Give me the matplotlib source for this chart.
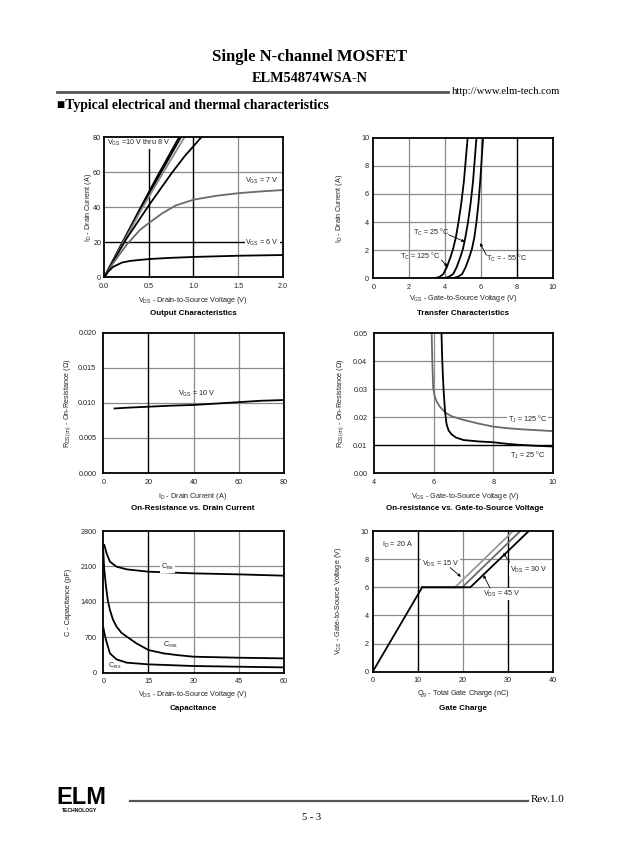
import numpy as np
import matplotlib
matplotlib.use("Agg")
from matplotlib import pyplot as plt

plt.rcParams['font.family'] = ['Liberation Sans', 'DejaVu Sans']
plt.rcParams['mathtext.default'] = 'regular'

W, H = 624, 865

# output characteristics
out_x10 = [0, 0.2, 0.4, 0.6, 0.84]
out_y10 = [0, 19.5, 39, 58, 80]
out_x9 = [0, 0.2, 0.4, 0.6, 0.86]
out_y9 = [0, 19, 38, 56.5, 80]
out_x85 = [0, 0.2, 0.4, 0.6, 0.9]
out_y85 = [0, 18.5, 37, 54.5, 80]
out_x8 = [0, 0.1, 0.25, 0.5, 0.75, 0.9, 1.09]
out_y8 = [0, 9, 22, 41, 59, 69, 80]
out_x7 = [0, 0.1, 0.25, 0.4, 0.5, 0.65, 0.8, 1.0, 1.25, 1.5, 1.75, 2.0]
out_y7 = [0, 8, 18.5, 27, 31, 36.5, 41, 44.3, 46.5, 48, 49, 49.8]
out_x6 = [0, 0.05, 0.1, 0.2, 0.3, 0.5, 0.75, 1.0, 1.5, 2.0]
out_y6 = [0, 3.5, 6, 8.5, 9.5, 10.5, 11.2, 11.7, 12.4, 12.8]

# transfer characteristics
tr_y = [0, 0.1, 0.3, 0.8, 1.5, 2.1, 2.9, 4.0, 5.3, 6.9, 10]
tr_x125 = [3.4, 3.7, 3.9, 4.1, 4.3, 4.45, 4.6, 4.75, 4.9, 5.05, 5.26]
tr_x25 = [3.9, 4.2, 4.45, 4.65, 4.85, 5.0, 5.13, 5.28, 5.42, 5.56, 5.75]
tr_x55 = [4.4, 4.7, 4.95, 5.15, 5.35, 5.5, 5.63, 5.75, 5.86, 5.96, 6.12]

# on-resistance vs drain current
rd_x = [5, 10, 20, 30, 40, 50, 60, 70, 80]
rd_y = [0.0092, 0.0093, 0.00945, 0.0096, 0.0097, 0.0099, 0.0101, 0.0103, 0.0104]

# on-resistance vs gate voltage
rg_x125 = [5.93, 5.95, 5.98, 6.03, 6.1, 6.2, 6.38, 6.6, 7.0, 7.5, 8.0, 8.5, 9.0, 9.5, 10]
rg_y125 = [0.05, 0.04, 0.0305, 0.0275, 0.0255, 0.0238, 0.0217, 0.0203, 0.019, 0.0177,
           0.0166, 0.016, 0.0156, 0.0153, 0.015]
rg_x25 = [6.26, 6.28, 6.31, 6.34, 6.38, 6.43, 6.5, 6.6, 6.75, 7.0, 7.5, 8.0, 8.5, 9.0, 9.5, 10]
rg_y25 = [0.05, 0.042, 0.034, 0.028, 0.022, 0.0175, 0.0152, 0.0138, 0.0127, 0.0118,
          0.0113, 0.011, 0.0104, 0.0100, 0.0097, 0.0095]

# capacitance
ciss_x = [0, 0.3, 1.1, 2.2, 4.4, 7.8, 15, 30, 45, 60]
ciss_y = [2490, 2530, 2358, 2194, 2095, 2042, 1996, 1963, 1943, 1917]
coss_x = [0, 0.3, 0.9, 1.5, 2.2, 3.2, 4.4, 6, 7.8, 11, 15, 20, 25, 30, 45, 60]
coss_y = [2400, 2050, 1700, 1430, 1240, 1050, 910, 790, 712, 580, 448, 382, 345, 316, 296, 283]
crss_x = [0, 0.3, 0.9, 2.2, 4.4, 7.8, 15, 30, 60]
crss_y = [896, 800, 645, 382, 263, 198, 165, 132, 105]

# gate charge
qg_x0 = [0, 11]
qg_y0 = [0, 6]
qg_y = [6, 6, 10]
qg_x15 = [11, 18.3, 31.2]
qg_x30 = [11, 19.9, 32.8]
qg_x45 = [11, 21.7, 34.7]

fig = plt.figure(figsize=(W / 100, H / 100), dpi=100)

GRAY = '#8a8a8a'
TXT = '#222222'
FS = 5.2


def make_ax(l, t, r, b, ypad=3):
    ax = fig.add_axes([l / W, 1 - b / H, (r - l) / W, (b - t) / H])
    for s in ax.spines.values():
        s.set_linewidth(1.3)
        s.set_zorder(5)
    ax.tick_params(length=0, labelsize=FS, colors=TXT)
    ax.tick_params(axis='x', pad=4)
    ax.tick_params(axis='y', pad=ypad)
    return ax


def grid(ax, xb=(), xg=(), yb=(), yg=()):
    for v in xg:
        ax.axvline(v, color=GRAY, lw=0.9, zorder=1)
    for v in yg:
        ax.axhline(v, color=GRAY, lw=0.9, zorder=1)
    for v in xb:
        ax.axvline(v, color='black', lw=1.0, zorder=1)
    for v in yb:
        ax.axhline(v, color='black', lw=1.0, zorder=1)


def label(ax, x, y, s, ha='left', bg=True):
    t = ax.text(x, y, s, fontsize=FS, ha=ha, va='center', color=TXT, zorder=4)
    if bg:
        t.set_bbox(dict(facecolor='white', edgecolor='none', pad=0.6))


def arrow(ax, x0, y0, x1, y1):
    ax.annotate('', xy=(x1, y1), xytext=(x0, y0),
                arrowprops=dict(arrowstyle='-|>', color='black', lw=0.6,
                                mutation_scale=4, shrinkA=0, shrinkB=0), zorder=4)


def titles(cx, xl_y, t_y, yl_x, yl_y, xl, yl, title):
    fig.text(cx / W, 1 - xl_y / H, xl, ha='center', va='center', fontsize=FS, color=TXT)
    fig.text(cx / W, 1 - t_y / H, title, ha='center', va='center', fontsize=5.8,
             fontweight='bold', color='black')
    fig.text(yl_x / W, 1 - yl_y / H, yl, ha='center', va='center', fontsize=FS,
             color=TXT, rotation=90)


LW = 1.3

# 1 output characteristics
ax = make_ax(104, 137, 283, 277.5, ypad=2)
grid(ax, xb=[0.5, 1.0], xg=[1.5], yb=[20], yg=[40, 60])
ax.plot(out_x10, out_y10, color='black', lw=LW, zorder=2)
ax.plot(out_x9, out_y9, color='black', lw=LW, zorder=2)
ax.plot(out_x85, out_y85, color=GRAY, lw=LW, zorder=2)
ax.plot(out_x8, out_y8, color='black', lw=LW, zorder=2)
ax.plot(out_x7, out_y7, color='#6a6a6a', lw=LW, zorder=2)
ax.plot(out_x6, out_y6, color='black', lw=LW, zorder=2)
ax.set_xlim(0, 2)
ax.set_ylim(0, 80)
ax.set_xticks([0, 0.5, 1.0, 1.5, 2.0])
ax.set_xticklabels(['0.0', '0.5', '1.0', '1.5', '2.0'])
ax.set_yticks([0, 20, 40, 60, 80])
label(ax, 0.03, 76.5, 'V$_{GS}$ =10 V thru 8 V')
label(ax, 1.58, 55, 'V$_{GS}$ = 7 V')
label(ax, 1.58, 19.5, 'V$_{GS}$ = 6 V')
titles(193, 300, 314, 89, 207, 'V$_{DS}$ - Drain-to-Source Voltage (V)',
       'I$_D$ - Drain Current (A)', 'Output Characteristics')

# 2 transfer characteristics
ax = make_ax(373.3, 137.7, 552.7, 278.3)
grid(ax, xb=[8], xg=[2, 4, 6], yg=[2, 4, 6, 8])
ax.plot(tr_x125, tr_y, color='black', lw=LW, zorder=2)
ax.plot(tr_x25, tr_y, color='black', lw=LW, zorder=2)
ax.plot(tr_x55, tr_y, color='black', lw=LW, zorder=2)
ax.set_xlim(0, 10)
ax.set_ylim(0, 10)
ax.set_xticks([0, 2, 4, 6, 8, 10])
ax.set_yticks([0, 2, 4, 6, 8, 10])
label(ax, 2.2, 3.3, 'T$_C$ = 25 °C', bg=False)
arrow(ax, 4.2, 3.1, 5.1, 2.6)
label(ax, 1.5, 1.55, 'T$_C$ = 125 °C', bg=False)
arrow(ax, 3.8, 1.3, 4.13, 0.83)
label(ax, 6.3, 1.4, 'T$_C$ = - 55 °C', bg=False)
arrow(ax, 6.3, 1.65, 5.95, 2.5)
titles(463, 299, 314, 340, 208, 'V$_{GS}$ - Gate-to-Source Voltage (V)',
       'I$_D$ - Drain Current (A)', 'Transfer Characteristics')

# 3 on-resistance vs drain current
ax = make_ax(103.3, 332.7, 284, 473, ypad=5)
grid(ax, xb=[20], xg=[40, 60], yg=[0.005, 0.010, 0.015])
ax.plot(rd_x, rd_y, color='black', lw=LW, zorder=2)
ax.set_xlim(0, 80)
ax.set_ylim(0, 0.02)
ax.set_xticks([0, 20, 40, 60, 80])
ax.set_yticks([0, 0.005, 0.010, 0.015, 0.020])
ax.set_yticklabels(['0.000', '0.005', '0.010', '0.015', '0.020'])
label(ax, 33, 0.0113, 'V$_{GS}$ = 10 V', bg=False)
titles(193, 496, 509, 68, 403, 'I$_D$ - Drain Current (A)',
       'R$_{DS(on)}$ - On-Resistance (Ω)', 'On-Resistance vs. Drain Current')

# 4 on-resistance vs gate voltage
ax = make_ax(374.3, 333.3, 552.7, 473, ypad=5)
grid(ax, xg=[6, 8], yb=[0.01], yg=[0.02, 0.03, 0.04])
ax.plot(rg_x125, rg_y125, color='#6a6a6a', lw=LW, zorder=2)
ax.plot(rg_x25, rg_y25, color='black', lw=LW, zorder=2)
ax.set_xlim(4, 10)
ax.set_ylim(0, 0.05)
ax.set_xticks([4, 6, 8, 10])
ax.set_yticks([0, 0.01, 0.02, 0.03, 0.04, 0.05])
ax.set_yticklabels(['0.00', '0.01', '0.02', '0.03', '0.04', '0.05'])
label(ax, 8.5, 0.0193, 'T$_J$ = 125 °C')
label(ax, 8.56, 0.0062, 'T$_J$ = 25 °C', bg=False)
titles(465, 497, 509, 341, 403, 'V$_{GS}$ - Gate-to-Source Voltage (V)',
       'R$_{DS(on)}$ - On-Resistance (Ω)', 'On-resistance vs. Gate-to-Source Voltage')

# 5 capacitance
ax = make_ax(103.3, 531, 284, 672.7, ypad=5)
grid(ax, xb=[15], xg=[30, 45], yg=[700, 1400, 2100])
ax.plot(ciss_x, ciss_y, color='black', lw=LW, zorder=2)
ax.plot(coss_x, coss_y, color='black', lw=LW, zorder=2)
ax.plot(crss_x, crss_y, color='black', lw=LW, zorder=2)
ax.set_xlim(0, 60)
ax.set_ylim(0, 2800)
ax.set_xticks([0, 15, 30, 45, 60])
ax.set_yticks([0, 700, 1400, 2100, 2800])
label(ax, 19.2, 2095, 'C$_{iss}$')
label(ax, 19.7, 547, 'C$_{oss}$', bg=False)
label(ax, 1.7, 138, 'C$_{rss}$', bg=False)
titles(193, 694, 709, 69, 602, 'V$_{DS}$ - Drain-to-Source Voltage (V)',
       'C - Capacitance (pF)', 'Capacitance')

# 6 gate charge
ax = make_ax(372.7, 531, 552.7, 671.7)
grid(ax, xb=[10, 30], xg=[20], yg=[2, 4, 6, 8])
ax.plot(qg_x0, qg_y0, color='black', lw=LW, zorder=2)
ax.plot(qg_x15, qg_y, color='#9a9a9a', lw=LW, zorder=2)
ax.plot(qg_x30, qg_y, color='#6a6a6a', lw=LW, zorder=2)
ax.plot(qg_x45, qg_y, color='black', lw=LW, zorder=2)
ax.set_xlim(0, 40)
ax.set_ylim(0, 10)
ax.set_xticks([0, 10, 20, 30, 40])
ax.set_yticks([0, 2, 4, 6, 8, 10])
label(ax, 2.0, 9.0, 'I$_D$ = 20 A', bg=False)
label(ax, 10.9, 7.65, 'V$_{DS}$ = 15 V')
arrow(ax, 17.2, 7.4, 19.6, 6.75)
label(ax, 30.4, 7.2, 'V$_{DS}$ = 30 V')
arrow(ax, 30.4, 7.8, 29.0, 8.44)
label(ax, 24.6, 5.52, 'V$_{DS}$ = 45 V')
arrow(ax, 26.1, 5.93, 24.6, 6.87)
titles(463, 694, 708, 338, 601, 'Q$_g$ - Total Gate Charge (nC)',
       'V$_{GS}$ - Gate-to-Source Voltage (V)', 'Gate Charge')

# page header / footer
serif = ['Liberation Serif', 'DejaVu Serif']
fig.text(310 / W, 1 - 57 / H, 'Single N-channel MOSFET', ha='center', va='center',
         fontsize=12, fontweight='bold', family=serif)
fig.text(310 / W, 1 - 78 / H, 'ELM54874WSA-N', ha='center', va='center',
         fontsize=10.3, fontweight='bold', family=serif)
fig.add_artist(plt.Line2D([57 / W, 448 / W], [1 - 92 / H, 1 - 92 / H], color='#555555', lw=2.0))
fig.text(452 / W, 1 - 91 / H, 'http://www.elm-tech.com', ha='left', va='center',
         fontsize=7.7, family=serif)
fig.text(57 / W, 1 - 105 / H, '■Typical electrical and thermal characteristics', ha='left',
         va='center', fontsize=9.8, fontweight='bold', family=serif)

fig.text(56 / W, 1 - 797 / H, 'ELM', ha='left', va='center', fontsize=17,
         fontweight='bold', family=['Liberation Sans', 'DejaVu Sans'])
fig.text(62 / W, 1 - 811 / H, 'TECHNOLOGY', ha='left', va='center', fontsize=3.6,
         fontweight='bold')
fig.add_artist(plt.Line2D([130 / W, 528 / W], [1 - 801 / H, 1 - 801 / H], color='#555555', lw=1.6))
fig.text(531 / W, 1 - 800 / H, 'Rev.1.0', ha='left', va='center', fontsize=8, family=serif)
fig.text(312 / W, 1 - 818 / H, '5 - 3', ha='center', va='center', fontsize=7.5, family=serif)

fig.savefig('out.png', dpi=100)
